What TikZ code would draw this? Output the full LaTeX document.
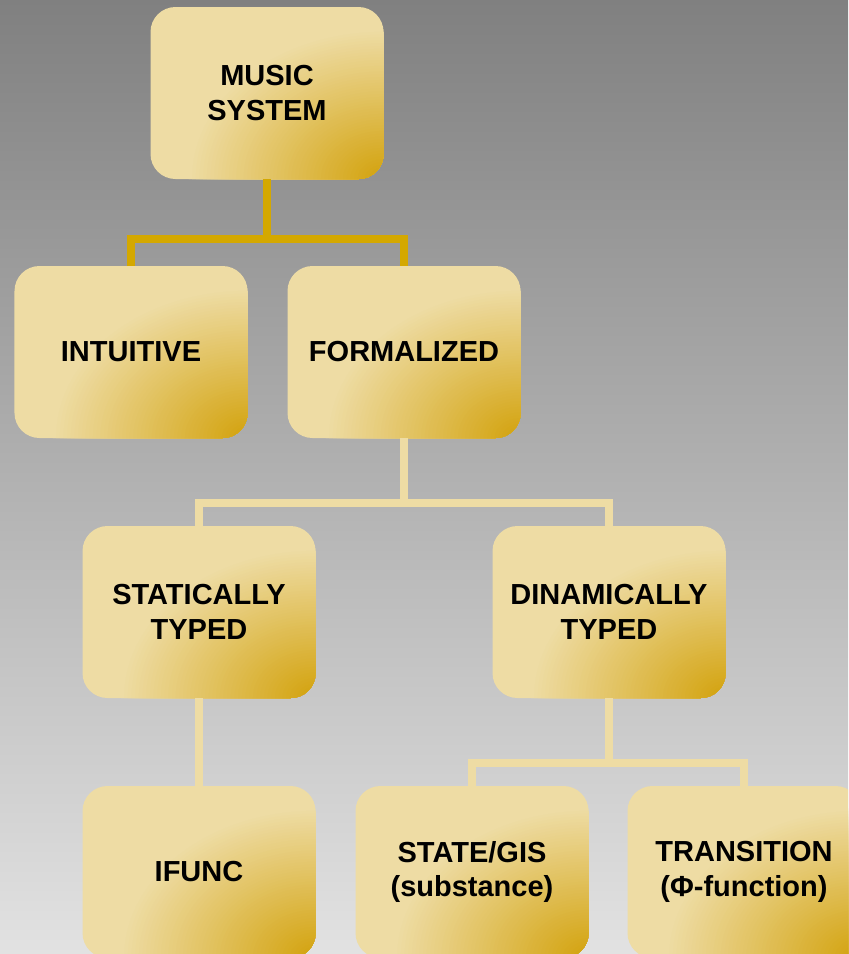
\documentclass[tikz,border=0pt]{standalone}
\usepackage{fontspec}
\setmainfont{Liberation Sans}
\usetikzlibrary{positioning}

\definecolor{boxsand}{RGB}{238,220,164}
\definecolor{boxgold}{RGB}{212,165,20}
\definecolor{linkgold}{RGB}{212,168,0}
\definecolor{bgtop}{RGB}{128,128,128}
\definecolor{bgbottom}{RGB}{226,226,226}

\begin{document}
\begin{tikzpicture}[node distance={5.2cm}, on grid, line width=4.5pt,
        main/.style = {rectangle, rounded corners=0.5cm, minimum width=4.66cm, minimum height=3.44cm, outer sep=0pt, fill=boxsand, align=center, font=\fontsize{16.5}{19.5}\selectfont\bfseries,
            % golden glow growing towards the lower right corner
            path picture={\foreach \k [evaluate=\k as \r using 1-\k/53, evaluate=\k as \p using int(2*\k)] in {0,...,50}
                {\fill[boxgold!\p!boxsand] (path picture bounding box.south east) ellipse [x radius=3.9cm*\r, y radius=3cm*\r];}}},
        link/.style = {draw=boxsand}]
        \useasboundingbox (0,0) rectangle (16.96,-19.08);
        \clip (0,0) rectangle (16.96,-19.08);
        \shade[top color=bgtop, bottom color=bgbottom] (0,0) rectangle (16.96,-19.08);

        \node[main] (1) at (5.34,-1.86) {MUSIC\\SYSTEM};
        \node[main] (2) [below left=5.18cm and 2.72cm of 1] {INTUITIVE};
        \node[main] (3) [below right=5.18cm and 2.74cm of 1] {FORMALIZED};
        \node[main] (4) [below left=5.2cm and 4.1cm of 3] {STATICALLY\\TYPED};
        \node[main] (5) [below right=5.2cm and 4.1cm of 3] {DINAMICALLY\\TYPED};
        \node[main] (6) [below=of 4] {IFUNC};
        \node[main] (7) [below left=5.2cm and 2.74cm of 5] {STATE/GIS\\(substance)};
        \node[main] (8) [below right=5.2cm and 2.7cm of 5] {TRANSITION\\(Φ-function)};

        \draw[draw=linkgold] (1.south) -- ++(0,-1.2) coordinate (a);
        \draw[draw=linkgold] (2.north) |- (a) -| (3.north);
        \draw[link] (3.south) -- ++(0,-1.3) coordinate (b);
        \draw[link] (4.north) |- (b) -| (5.north);
        \draw[link] (4) -- (6);
        \draw[link] (5.south) -- ++(0,-1.3) coordinate (c);
        \draw[link] (7.north) |- (c) -| (8.north);
    \end{tikzpicture}
\end{document}
